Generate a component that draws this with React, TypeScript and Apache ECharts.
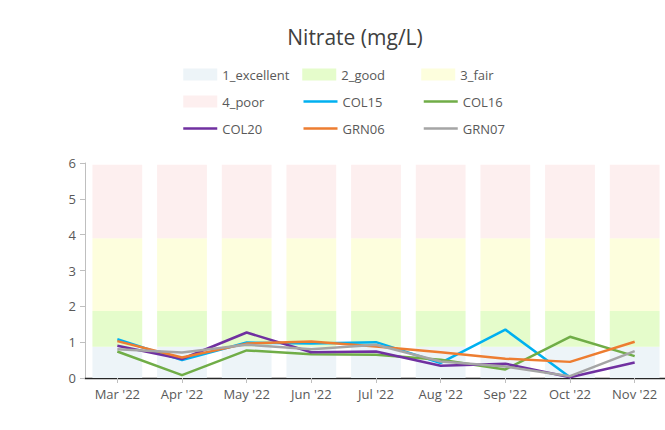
import React, { useEffect, useRef } from "react";
import * as echarts from "echarts";

const categories = ["Mar '22", "Apr '22", "May '22", "Jun '22", "Jul '22", "Aug '22", "Sep '22", "Oct '22", "Nov '22"];

// background band thicknesses (stacked)
const bandExcellent = [0.87, 0.87, 0.87, 0.87, 0.87, 0.87, 0.87, 0.87, 0.87];
const bandGood = [1.0, 1.0, 1.0, 1.0, 1.0, 1.0, 1.0, 1.0, 1.0];
const bandFair = [2.03, 2.03, 2.03, 2.03, 2.03, 2.03, 2.03, 2.03, 2.03];
const bandPoor = [2.05, 2.05, 2.05, 2.05, 2.05, 2.05, 2.05, 2.05, 2.05];

const col15 = [1.08, 0.5, 0.99, 0.96, 1.0, 0.42, 1.35, 0.02, null];
const col16 = [0.74, 0.08, 0.77, 0.66, 0.65, 0.51, 0.24, 1.15, 0.61];
const col20 = [0.9, 0.53, 1.27, 0.72, 0.74, 0.34, 0.4, 0.02, 0.43];
const grn06 = [1.03, 0.57, 0.96, 1.02, 0.88, 0.72, 0.54, 0.45, 1.01];
const grn07 = [0.8, 0.71, 0.93, 0.8, 0.93, 0.46, 0.32, 0.05, 0.75];

const FONT = "'Open Sans', 'Noto Sans', sans-serif";
const TXT = "#595959";

export default function App() {
  const ref = useRef<HTMLDivElement>(null);
  useEffect(() => {
    if (!ref.current) return;
    const chart = echarts.init(ref.current, null, { renderer: "svg" });
    const band = (name: string, data: number[], color: string) => ({
      name,
      type: "bar",
      stack: "bands",
      data,
      barCategoryGap: "23%",
      itemStyle: { color },
      emphasis: { disabled: true },
      silent: true,
      z: 1,
    });
    const line = (name: string, data: (number | null)[], color: string) => ({
      name,
      type: "line",
      data,
      symbol: "none",
      lineStyle: { color, width: 2.5 },
      itemStyle: { color },
      z: 5,
    });
    const lineLegend = (name: string) => ({ name, itemStyle: { opacity: 0 }, lineStyle: { width: 2.5 } });
    chart.setOption({
      animation: false,
      backgroundColor: "#ffffff",
      textStyle: { fontFamily: FONT },
      title: {
        text: "Nitrate (mg/L)",
        left: "center",
        top: 21,
        textStyle: { fontFamily: FONT, fontSize: 21, fontWeight: "normal", color: "#404040" },
      },
      legend: {
        left: 177,
        top: 61,
        width: 370,
        itemWidth: 34,
        itemHeight: 12,
        itemGap: 10,
        textStyle: { fontFamily: FONT, fontSize: 13, color: TXT, width: 70, lineHeight: 17 },
        data: [
          { name: "1_excellent", icon: "rect" },
          { name: "2_good", icon: "rect" },
          { name: "3_fair", icon: "rect" },
          { name: "4_poor", icon: "rect" },
          lineLegend("COL15"),
          lineLegend("COL16"),
          lineLegend("COL20"),
          lineLegend("GRN06"),
          lineLegend("GRN07"),
        ],
      },
      grid: { left: 85, right: 43, top: 163, bottom: 52, containLabel: false },
      xAxis: [
        {
          type: "category",
          data: categories,
          axisLine: { show: true, lineStyle: { color: "#262626", width: 1.3 } },
          axisTick: { show: true, alignWithLabel: true, length: 5, lineStyle: { color: "#bfbfbf" } },
          axisLabel: { color: TXT, fontFamily: FONT, fontSize: 13, margin: 9 },
          splitLine: { show: false },
        },
        {
          type: "category",
          data: categories,
          position: "bottom",
          axisLine: { show: false },
          axisTick: { show: true, inside: true, alignWithLabel: true, length: 3, lineStyle: { color: "#bfbfbf" } },
          axisLabel: { show: false },
          splitLine: { show: false },
        },
      ],
      yAxis: {
        type: "value",
        min: 0,
        max: 6,
        interval: 1,
        axisLine: { show: true, lineStyle: { color: "#bfbfbf" } },
        axisTick: { show: true, length: 5, lineStyle: { color: "#bfbfbf" } },
        axisLabel: { color: TXT, fontFamily: FONT, fontSize: 13, margin: 9 },
        splitLine: { show: false },
      },
      series: [
        band("1_excellent", bandExcellent, "#edf4f8"),
        band("2_good", bandGood, "#e5fccb"),
        band("3_fair", bandFair, "#fdfedd"),
        band("4_poor", bandPoor, "#fdefef"),
        line("COL15", col15, "#00b0f0"),
        line("COL16", col16, "#70ad47"),
        line("COL20", col20, "#7030a0"),
        line("GRN06", grn06, "#ed7d31"),
        line("GRN07", grn07, "#a5a5a5"),
      ],
    });
    return () => chart.dispose();
  }, []);
  return (
    <div style={{ position: "fixed", left: 0, top: 0, width: 665, height: 430, overflow: "hidden", background: "#fff" }}>
      <div ref={ref} style={{ width: 710, height: 430 }} />
    </div>
  );
}
